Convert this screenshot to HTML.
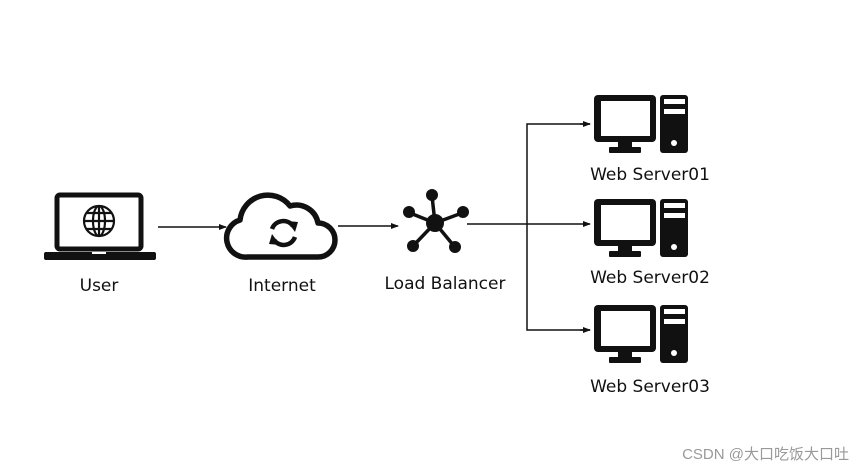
<!DOCTYPE html>
<html><head><meta charset="utf-8"><style>
html,body{margin:0;padding:0;background:#fff;}
svg{display:block;}
text{font-family:"DejaVu Sans","Liberation Sans",sans-serif;fill:#111;}
</style></head><body>
<svg width="868" height="469" viewBox="0 0 868 469" xmlns="http://www.w3.org/2000/svg">
<defs>
<marker id="ah" markerWidth="8" markerHeight="8" refX="7" refY="4" orient="auto" markerUnits="userSpaceOnUse">
<path d="M0,1 L8,4 L0,7 z" fill="#111"/></marker>
<g id="srv">
<rect x="594" y="95" width="62" height="47" rx="4" fill="#111"/>
<rect x="601" y="101" width="49" height="35" fill="#fff"/>
<rect x="618" y="141" width="14" height="9" fill="#111"/>
<rect x="609" y="147" width="32" height="6" rx="1" fill="#111"/>
<rect x="660" y="95" width="28" height="58" rx="3" fill="#111"/>
<rect x="664" y="99" width="21" height="5" fill="#fff"/>
<rect x="664" y="109" width="21" height="5" fill="#fff"/>
<circle cx="674" cy="143" r="3" fill="#fff"/>
</g>
</defs>
<!-- laptop -->
<rect x="57" y="195" width="84" height="54" rx="3" fill="none" stroke="#111" stroke-width="5"/>
<rect x="44" y="252" width="112" height="8" rx="2" fill="#111"/>
<rect x="92" y="252" width="14" height="2" fill="#fff"/>
<g fill="none" stroke="#111" stroke-width="2.2">
<circle cx="99" cy="221" r="15"/>
<ellipse cx="99" cy="221" rx="6" ry="15"/>
<line x1="84" y1="221" x2="114" y2="221"/>
<line x1="99" y1="206" x2="99" y2="236"/>
<path d="M87,213 H111 M87,229 H111"/>
</g>
<text x="99" y="291" font-size="17" text-anchor="middle">User</text>
<line x1="158" y1="227" x2="226" y2="227" stroke="#111" stroke-width="1.5" marker-end="url(#ah)"/>
<!-- cloud -->
<path d="M248,257 H318 A17,17 0 0 0 318,223 A22,22 0 0 0 290,206 A28,28 0 0 0 240,220 A19,19 0 0 0 248,257 Z" fill="none" stroke="#111" stroke-width="5.5" stroke-linejoin="round"/>
<g fill="none" stroke="#111" stroke-width="4.5">
<path d="M272,229 A12,12 0 0 1 293,226"/>
<path d="M295,237 A12,12 0 0 1 274,240"/>
</g>
<path d="M287,221 L298,222 L295,232 z M280,245 L269,244 L272,234 z" fill="#111"/>
<text x="282" y="291" font-size="17" text-anchor="middle">Internet</text>
<line x1="338" y1="226" x2="398" y2="226" stroke="#111" stroke-width="1.5" marker-end="url(#ah)"/>
<!-- hub -->
<g stroke="#111" stroke-width="3.5">
<line x1="435" y1="223" x2="432" y2="196"/>
<line x1="435" y1="223" x2="410" y2="213"/>
<line x1="435" y1="223" x2="462" y2="213"/>
<line x1="435" y1="223" x2="414" y2="245"/>
<line x1="435" y1="223" x2="454" y2="246"/>
</g>
<g fill="#111">
<circle cx="435" cy="223" r="9"/>
<circle cx="432" cy="195" r="6"/>
<circle cx="409" cy="212" r="6"/>
<circle cx="463" cy="212" r="6"/>
<circle cx="413" cy="246" r="6"/>
<circle cx="455" cy="247" r="6"/>
</g>
<text x="445" y="289" font-size="17" text-anchor="middle">Load Balancer</text>
<!-- connectors -->
<g stroke="#111" stroke-width="1.5" fill="none">
<line x1="467" y1="224" x2="590" y2="224" marker-end="url(#ah)"/>
<path d="M590,124 H527 V330 H590" />
</g>
<line x1="580" y1="124" x2="590" y2="124" stroke="#111" stroke-width="1.5" marker-end="url(#ah)"/>
<line x1="580" y1="330" x2="590" y2="330" stroke="#111" stroke-width="1.5" marker-end="url(#ah)"/>
<use href="#srv"/>
<use href="#srv" y="104"/>
<use href="#srv" y="210"/>
<text x="650" y="180" font-size="17" text-anchor="middle">Web Server01</text>
<text x="650" y="283" font-size="17" text-anchor="middle">Web Server02</text>
<text x="650" y="392" font-size="17" text-anchor="middle">Web Server03</text>
<text x="849" y="459" font-size="15" text-anchor="end" style="fill:#999;font-family:'Liberation Sans','Noto Sans CJK SC',sans-serif">CSDN @大口吃饭大口吐</text>
</svg>
</body></html>
